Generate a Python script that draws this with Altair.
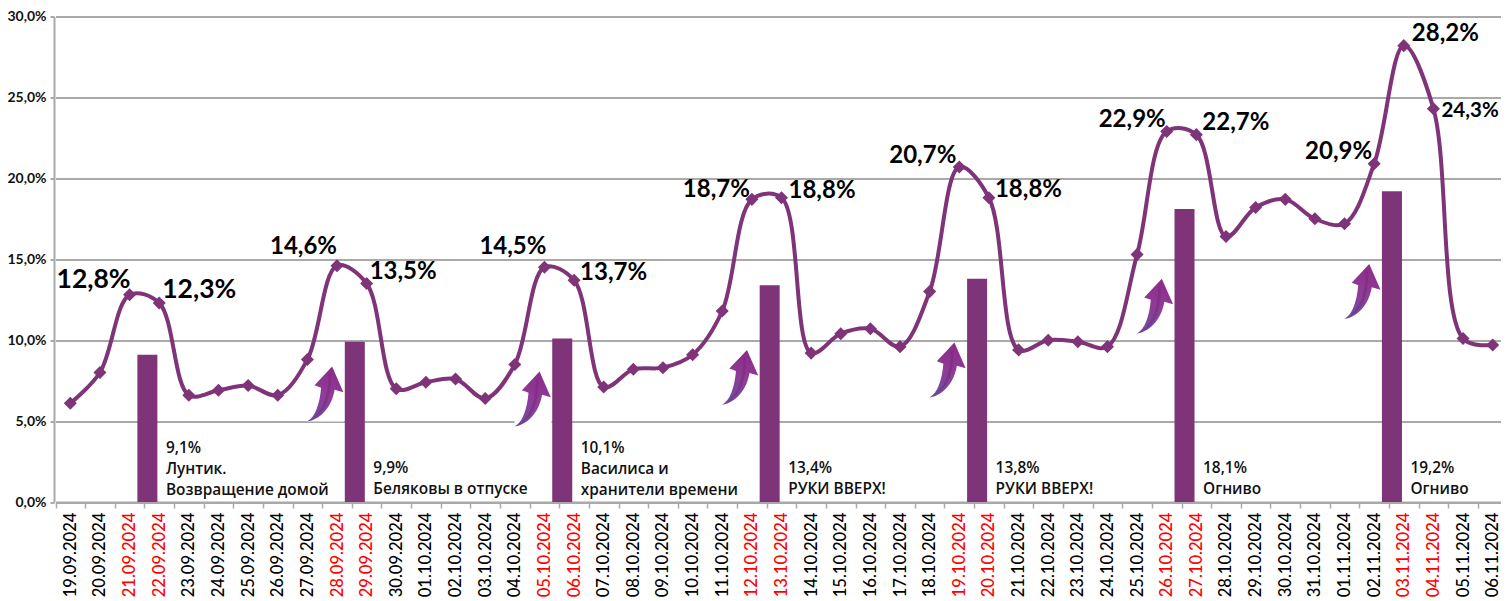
import altair as alt
import pandas as pd

days = ["19.09.2024","20.09.2024","21.09.2024","22.09.2024","23.09.2024","24.09.2024","25.09.2024","26.09.2024",
        "27.09.2024","28.09.2024","29.09.2024","30.09.2024","01.10.2024","02.10.2024","03.10.2024","04.10.2024",
        "05.10.2024","06.10.2024","07.10.2024","08.10.2024","09.10.2024","10.10.2024","11.10.2024","12.10.2024",
        "13.10.2024","14.10.2024","15.10.2024","16.10.2024","17.10.2024","18.10.2024","19.10.2024","20.10.2024",
        "21.10.2024","22.10.2024","23.10.2024","24.10.2024","25.10.2024","26.10.2024","27.10.2024","28.10.2024",
        "29.10.2024","30.10.2024","31.10.2024","01.11.2024","02.11.2024","03.11.2024","04.11.2024","05.11.2024",
        "06.11.2024"]
share = [6.1,8.0,12.8,12.3,6.6,6.9,7.2,6.6,8.8,14.6,13.5,7.0,7.4,7.6,6.4,8.5,14.5,13.7,7.1,8.2,8.3,9.1,11.8,18.7,
         18.8,9.2,10.4,10.7,9.6,13.0,20.7,18.8,9.4,10.0,9.9,9.6,15.3,22.9,22.7,16.4,18.2,18.7,17.5,17.2,20.9,28.2,
         24.3,10.1,9.7]
weekend_days = ["21.09.2024","22.09.2024","28.09.2024","29.09.2024","05.10.2024","06.10.2024","12.10.2024",
                "13.10.2024","19.10.2024","20.10.2024","26.10.2024","27.10.2024","03.11.2024","04.11.2024"]

film_days = ["21.09.2024","28.09.2024","05.10.2024","12.10.2024","19.10.2024","26.10.2024","02.11.2024"]
film_share = [9.1,9.9,10.1,13.4,13.8,18.1,19.2]
film_names = ["9,1%\nЛунтик.\nВозвращение домой","9,9%\nБеляковы в отпуске",
              "10,1%\nВасилиса и\nхранители времени","13,4%\nРУКИ ВВЕРХ!","13,8%\nРУКИ ВВЕРХ!",
              "18,1%\nОгниво","19,2%\nОгниво"]

arrow_days = ["28.09.2024","05.10.2024","12.10.2024","19.10.2024","26.10.2024","02.11.2024"]
arrow_levels = [6.67,6.36,7.7,8.15,12.1,13.0]

label_days = ["21.09.2024","22.09.2024","28.09.2024","29.09.2024","05.10.2024","06.10.2024","12.10.2024",
              "13.10.2024","19.10.2024","20.10.2024","26.10.2024","27.10.2024","02.11.2024","03.11.2024","04.11.2024"]
label_texts = ["12,8%","12,3%","14,6%","13,5%","14,5%","13,7%","18,7%","18,8%","20,7%","18,8%","22,9%","22,7%",
               "20,9%","28,2%","24,3%"]

# layout of the value labels, separate from the values
label_align = ["right","left","right","left","right","left","right","left","right","left","right","left","right","left","left"]
label_dx = [1,3,0,3,2,6,-2,7,-3,6,-1,6,-2,8,8]
label_dy = [-15,-13,-19,-12,-20,-7,-9,-7,-11,-8,-11,-12,-12,-12,2]
label_size = [26.5,26.5,24,24,24,24,24,24,24,24,24,24,24,24,20.5]

FONT = "Lato"
CYR = "Open Sans"
PURPLE = "#7F3379"
GRID = "#A9A9A9"
BAR_SHIFT = 17.8

main = pd.DataFrame({"day": days, "share": share})
films = pd.DataFrame({"day": film_days, "share": film_share, "name": film_names})
films["lines"] = films["name"].str.count("\n") + 1
arrows = pd.DataFrame({"day": arrow_days, "level": arrow_levels})
labels = pd.DataFrame({"day": label_days, "share": [share[days.index(d)] for d in label_days], "text": label_texts})

red_test = "indexof(" + repr(weekend_days) + ", datum.value) >= 0 ? '#FF0000' : '#000000'"
x_scale = alt.Scale(domain=days, paddingInner=0, paddingOuter=0, range=[1.5, 1453.5])
x_axis = alt.Axis(labelAngle=270, labelAlign="right", labelBaseline="middle", labelFont=FONT,
                  labelFontSize=16.6, labelFontWeight=500, labelColor=alt.expr(red_test),
                  labelPadding=4, labelOverlap=False, tickBand="extent", tickSize=6, tickWidth=1.5,
                  tickColor=GRID, domainColor=GRID, domainWidth=2, grid=False, title=None)
y_scale = alt.Scale(domain=[0, 30], nice=False)
y_axis = alt.Axis(values=[0,5,10,15,20,25,30],
                  labelExpr="replace(format(datum.value, '.1f'), '.', ',') + '%'",
                  labelFont=FONT, labelFontSize=14, labelFontWeight="bold", labelColor="#111111",
                  labelPadding=4, tickSize=4, tickWidth=2, tickColor=GRID, domainColor=GRID,
                  domainWidth=2, gridColor=GRID, gridWidth=2, grid=True, title=None)

x_enc = alt.X("day:N", sort=days, title=None, scale=x_scale, axis=x_axis)
y_enc = alt.Y("share:Q", title=None, scale=y_scale, axis=y_axis)
y_lvl = alt.Y("level:Q", title=None, scale=y_scale, axis=y_axis)
x_edge = alt.X("day:N", sort=days, title=None, scale=x_scale, axis=x_axis, bandPosition=1)

ARROW = ("M-0.67,1 C-0.37,0.84 -0.21,0.35 -0.16,-0.23 L-0.40,-0.32 L0.24,-1 L0.65,-0.07 L0.33,-0.16 "
         "C0.24,0.41 -0.12,0.90 -0.67,1 Z")
STREAK = "M-0.62,0.98 C-0.2,0.75 0.08,0.3 0.12,-0.72 L0.2,-0.72 C0.22,0.3 -0.1,0.78 -0.62,0.98 Z"
BOX = "M-0.67,-1 L0.67,-1 L0.67,1 L-0.67,1 Z"
grad = alt.LinearGradient(gradient="linear", x1=0.5, y1=0, x2=0.3, y2=1,
                          stops=[alt.GradientStop(color="#8C2C8A", offset=0),
                                 alt.GradientStop(color="#8F3C98", offset=0.5),
                                 alt.GradientStop(color="#6B4FA0", offset=1)])

box = alt.Chart(arrows).mark_point(shape=BOX, filled=True, fill="#FFFFFF", size=3025, opacity=1, xOffset=-11.5).encode(x=x_enc, y=y_lvl)
bars = alt.Chart(films).mark_bar(size=20, color=PURPLE, xOffset=BAR_SHIFT).encode(x=x_enc, y=y_enc)
line = alt.Chart(main).mark_line(color=PURPLE, strokeWidth=4, interpolate="catmull-rom").encode(x=x_enc, y=y_enc)
pts = alt.Chart(main).mark_point(shape="diamond", filled=True, color=PURPLE, size=170, opacity=1).encode(x=x_enc, y=y_enc)
arrow = alt.Chart(arrows).mark_point(shape=ARROW, filled=False, fill=grad, strokeWidth=0, size=3025, opacity=1, xOffset=-11.5).encode(x=x_enc, y=y_lvl)
streak = alt.Chart(arrows).mark_point(shape=STREAK, filled=True, color="#7A2A78", size=3025, opacity=0.55, xOffset=-11.5).encode(x=x_enc, y=y_lvl)

film_layers = []
for n, first_line_dy in ((3, -54), (2, -34)):
    film_layers.append(
        alt.Chart(films[films["lines"] == n]).mark_text(
            align="left", baseline="middle", lineBreak="\n", lineHeight=21, dx=21.5, dy=first_line_dy,
            font=CYR, fontSize=15.4, fontWeight=600, color="#111111").encode(
            x=x_edge, y=alt.datum(0, scale=y_scale, axis=y_axis), text="name:N"))

value_layers = []
for i in range(len(label_days)):
    value_layers.append(
        alt.Chart(labels.iloc[[i]]).mark_text(align=label_align[i], baseline="middle", dx=label_dx[i], dy=label_dy[i],
                                              font=FONT, fontSize=label_size[i], fontWeight="bold", color="#000000").encode(
            x=x_enc, y=y_enc, text="text:N"))

chart = alt.layer(box, bars, line, pts, arrow, streak, *film_layers, *value_layers).properties(
    width=1447, height=485.5,
    autosize=alt.AutoSizeParams(type="none"),
    padding={"left": 46, "top": 8.5, "right": 0, "bottom": 96},
    background="#FFFFFF",
).configure_view(stroke=None)

chart.save("out.html", embed_options={"renderer": "svg", "actions": False})
